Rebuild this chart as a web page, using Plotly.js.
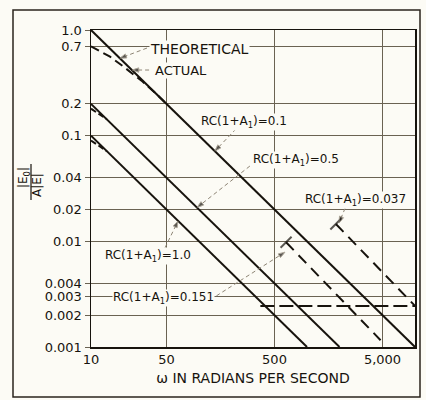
<!DOCTYPE html>
<html>
<head>
<meta charset="utf-8">
<script src="https://cdn.plot.ly/plotly-3.0.1.min.js"></script>
<style>
  html, body { margin: 0; padding: 0; background: #fcfbf5; }
  #chart { width: 426px; height: 400px; }
</style>
</head>
<body>
<div id="chart"></div>
<script>
// ---- Data (log-log) ----
// Theoretical curves (solid)
const wTheo01 = [10, 10000];   const vTheo01 = [1.0, 0.001];   // RC(1+A1)=0.1
const wTheo05 = [10, 2000];    const vTheo05 = [0.2, 0.001];   // RC(1+A1)=0.5
const wTheo10 = [10, 1000];    const vTheo10 = [0.1, 0.001];   // RC(1+A1)=1.0
// Actual curves (dashed)
const wAct01 = [10, 15, 20, 30, 40, 50];   const vAct01 = [0.7, 0.56, 0.45, 0.325, 0.25, 0.2];
const wAct05 = [10, 12, 14];               const vAct05 = [0.18, 0.158, 0.143];
const wAct10 = [10, 12, 14];               const vAct10 = [0.09, 0.08, 0.0714];
const wAct0151 = [640, 4800];              const vAct0151 = [0.0098, 0.00116];
const wAct0037 = [1850, 10000];            const vAct0037 = [0.0146, 0.00245];
const wFlat = [370, 10000];                const vFlat = [0.00245, 0.00245];

// Tick labels
const xTickVals = [10, 50, 500, 5000];
const xTickText = ["10", "50", "500", "5,000"];
const yTickVals = [0.001, 0.002, 0.003, 0.004, 0.01, 0.02, 0.04, 0.1, 0.2, 0.7, 1.0];
const yTickText = ["0.001", "0.002", "0.003", "0.004", "0.01", "0.02", "0.04", "0.1", "0.2", "0.7", "1.0"];

// Leader lines: [start, arrow tip]
const leaders = [
  {w: [33, 18.5],   v: [0.675, 0.54]},     // THEORETICAL
  {w: [34.5, 24],   v: [0.418, 0.418]},    // ACTUAL
  {w: [220, 140],   v: [0.1156, 0.0714]},  // 0.1
  {w: [296, 96],    v: [0.0516, 0.0209]},  // 0.5
  {w: [48.4, 64],   v: [0.00866, 0.0156]}, // 1.0
  {w: [145, 625],   v: [0.00305, 0.0079]}, // 0.151
  {w: [2250, 1977], v: [0.0205, 0.0149]}   // 0.037
];

const INK = "#17130d";
const GRID = "#6a6252";
const LEAD = "#8d8474";
const BG = "#fcfbf5";
const FONT = "DejaVu Sans, sans-serif";

function solid(x, y) {
  return {x: x, y: y, type: "scatter", mode: "lines", hoverinfo: "skip",
          line: {color: INK, width: 2}, showlegend: false};
}
function dashed(x, y, d, startTick) {
  const t = {x: x, y: y, type: "scatter", mode: startTick ? "lines+markers" : "lines", hoverinfo: "skip",
          line: {color: INK, width: 2, dash: d || "10px,6px"}, showlegend: false};
  if (startTick) {
    t.marker = {symbol: "line-ne", size: x.map((_, i) => i === 0 ? 11 : 0),
                color: INK, line: {color: INK, width: 2}};
  }
  return t;
}

const traces = [
  solid(wTheo01, vTheo01), solid(wTheo05, vTheo05), solid(wTheo10, vTheo10),
  dashed(wAct01, vAct01, "9px,5px"), dashed(wAct05, vAct05, "6px,3px"), dashed(wAct10, vAct10, "6px,3px"),
  dashed(wAct0151, vAct0151, "11px,7px", true), dashed(wAct0037, vAct0037, "11px,7px", true),
  dashed(wFlat, vFlat, "14px,5px")
];
leaders.forEach(l => traces.push({
  x: l.w, y: l.v, type: "scatter", mode: "lines+markers", hoverinfo: "skip", showlegend: false,
  line: {color: LEAD, width: 1, dash: "4px,3px"},
  marker: {symbol: "arrow", size: [0, 7], angleref: "previous", color: INK}
}));

const L = Math.log10;
const annotations = [];

function label(text, w, v, size) {
  return {x: L(w), y: L(v), xref: "x", yref: "y", text: text, showarrow: false,
          font: {family: FONT, size: size || 12, color: INK}, bgcolor: BG,
          borderpad: 0, xanchor: "center", yanchor: "middle"};
}
annotations.push(label("THEORETICAL", 100, 0.654, 14));
annotations.push(label("ACTUAL", 68, 0.414, 13));
annotations.push(label("RC(1+A<sub>1</sub>)=0.1", 261, 0.134));
annotations.push(label("RC(1+A<sub>1</sub>)=0.5", 791, 0.0589));
annotations.push(label("RC(1+A<sub>1</sub>)=1.0", 33.7, 0.00725));
annotations.push(label("RC(1+A<sub>1</sub>)=0.151", 47.4, 0.00292));
annotations.push(label("RC(1+A<sub>1</sub>)=0.037", 2800, 0.0245));

// y-axis fraction title
annotations.push({xref: "paper", yref: "paper", x: (24 - 91) / 324, y: (347 - 178) / 317,
  text: "|E<sub>0</sub>|", textangle: -90, showarrow: false,
  font: {family: FONT, size: 12, color: INK}, xanchor: "center", yanchor: "middle"});
annotations.push({xref: "paper", yref: "paper", x: (37 - 91) / 324, y: (347 - 185) / 317,
  text: "A|E|", textangle: -90, showarrow: false,
  font: {family: FONT, size: 12, color: INK}, xanchor: "center", yanchor: "middle"});

const shapes = [
  {type: "line", xref: "paper", yref: "paper", x0: (31 - 91) / 324, x1: (31 - 91) / 324,
   y0: (347 - 200) / 317, y1: (347 - 164) / 317, line: {color: INK, width: 1.2}},
  {type: "rect", xref: "paper", yref: "paper", x0: (13 - 91) / 324, x1: (420 - 91) / 324,
   y0: (347 - 397) / 317, y1: (347 - 10) / 317, line: {color: "#2a251c", width: 1.5}}
];

const layout = {
  width: 426, height: 400,
  margin: {l: 91, r: 11, t: 30, b: 53, pad: 0},
  paper_bgcolor: BG, plot_bgcolor: BG,
  showlegend: false,
  font: {family: FONT, color: INK},
  xaxis: {
    type: "log", range: [1, 4], tickvals: xTickVals, ticktext: xTickText,
    showgrid: true, gridcolor: GRID, gridwidth: 1, zeroline: false,
    showline: true, mirror: true, linecolor: INK, linewidth: 1.5,
    ticks: "", tickfont: {family: FONT, size: 13, color: INK},
    title: {text: "ω IN RADIANS PER SECOND", font: {family: FONT, size: 14, color: INK}, standoff: 7}
  },
  yaxis: {
    type: "log", range: [-3, 0], tickvals: yTickVals, ticktext: yTickText,
    showgrid: true, gridcolor: GRID, gridwidth: 1, zeroline: false,
    showline: true, mirror: true, linecolor: INK, linewidth: 1.5,
    ticks: "outside", ticklen: 5, tickcolor: GRID, tickwidth: 1,
    tickfont: {family: FONT, size: 13, color: INK}
  },
  annotations: annotations,
  shapes: shapes
};

Plotly.newPlot("chart", traces, layout, {staticPlot: true, displayModeBar: false});
</script>
</body>
</html>
